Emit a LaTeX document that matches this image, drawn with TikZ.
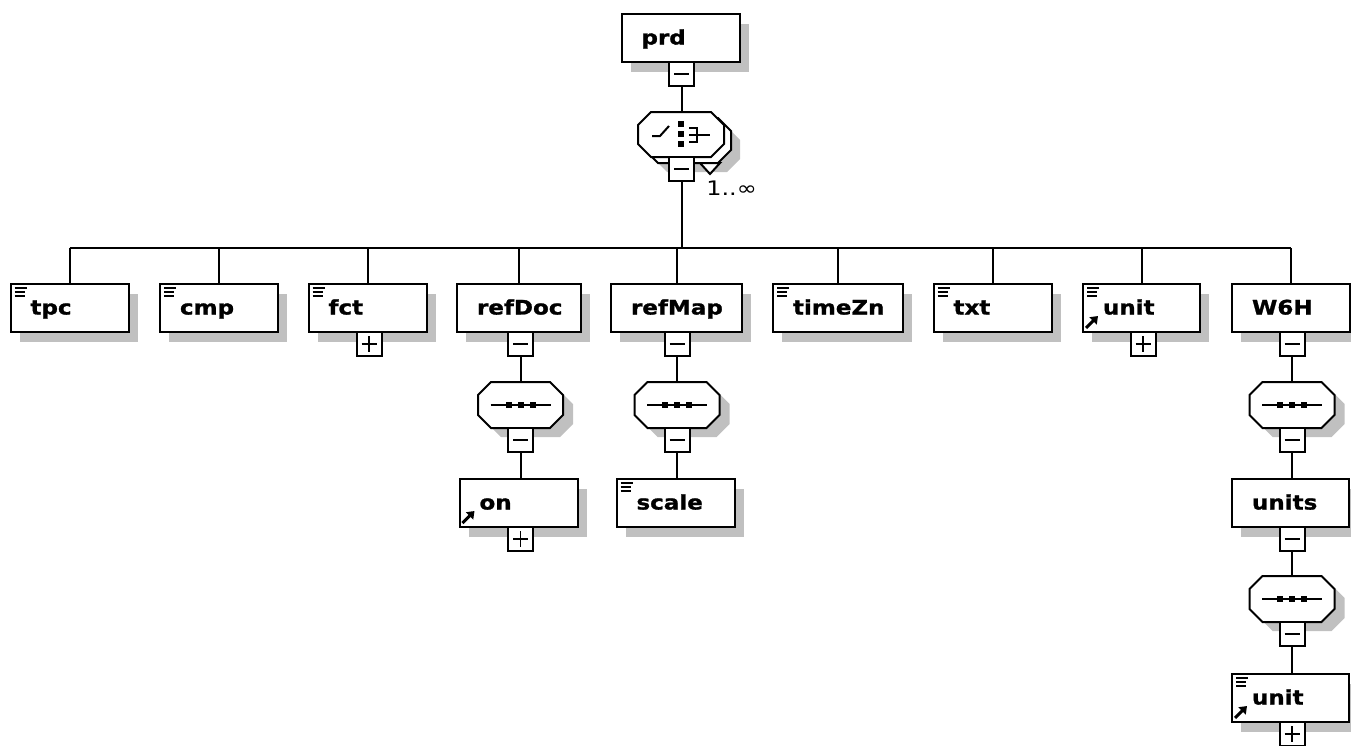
\documentclass[tikz,border=0pt]{standalone}
\usepackage{fontspec}
\newfontfamily\boxfont[FakeStretch=1.15,BoldFeatures={FakeBold=1.2}]{DejaVu Sans}
\newfontfamily\numfont[FakeStretch=1.2]{DejaVu Sans}
\usetikzlibrary{shadows,arrows.meta}
\definecolor{shadowgrey}{HTML}{C0C0C0}

\begin{document}
\begin{tikzpicture}[x=1pt,y=-1pt,line width=2pt,
    elem/.style={draw,fill=white,text width=#1,align=left,inner xsep=20pt,inner ysep=0pt,
      minimum height=48pt,text height=15pt,text depth=2pt,
      font=\boxfont\bfseries\fontsize{20}{22}\selectfont,
      drop shadow={shadow xshift=9pt,shadow yshift=-10pt,fill=shadowgrey,opacity=1}},
    elem/.default=78pt,
    toggle/.style={draw,fill=white,minimum width=25pt,minimum height=24pt,inner sep=0pt},
    minus/.style={toggle,path picture={\draw[line width=1.6pt]
      ([xshift=5pt]path picture bounding box.west) -- ([xshift=-5pt]path picture bounding box.east);}},
    plus/.style={toggle,path picture={\draw[line width=1.6pt]
      ([xshift=5pt]path picture bounding box.west) -- ([xshift=-5pt]path picture bounding box.east)
      ([yshift=-4pt]path picture bounding box.north) -- ([yshift=4pt]path picture bounding box.south);}},
    octshade/.style={fill=shadowgrey},
    octface/.style={draw,fill=white},
    seq/.pic={
      \foreach \sx/\sy/\st in {10/9/octshade,0/0/octface}
        \path[\st,shift={(\sx,\sy)}] (-29.5,-23) -- (29.5,-23) -- (42.5,-10) -- (42.5,10)
          -- (29.5,23) -- (-29.5,23) -- (-42.5,10) -- (-42.5,-10) -- cycle;
      \draw (-30,0) -- (30,0);
      \foreach \dx in {-12,0,12}
        \fill (\dx-3,-3) rectangle (\dx+3,3);
      \node[minimum width=85pt,minimum height=46pt,inner sep=0pt] (-box) {};
    }]
  \useasboundingbox (0,0) rectangle (1351,745);
  \coordinate (bus) at (0,248);

  % root and its choice
  \node[elem] (prd) at (680.5,38) {prd};
  \node[minus] (prdT) at (681.5,74) {};
  \foreach \sx/\sy/\st in {16/15/octshade,7/6/octface,0/0/octface}
    \path[\st,shift={(\sx,\sy)}] (651,112) -- (711,112) -- (724,125) -- (724,144)
      -- (711,157) -- (651,157) -- (638,144) -- (638,125) -- cycle;
  \draw[fill=white] (700,163) -- (720,163) -- (710,174) -- cycle;
  \draw (652,136) -- (660,136) -- (669,126);
  \foreach \sy in {121,131,141}
    \fill (678,\sy) rectangle (684,\sy+6);
  \draw (689,128) -- (697,128) -- (697,142) -- (689,142) (689,135) -- (710,135);
  \node[minimum width=86pt,minimum height=45pt,inner sep=0pt] (choice) at (681,134.5) {};
  \node[minus] (choiceT) at (681.5,169) {};
  \node[anchor=west,font=\numfont\fontsize{20}{22}\selectfont] (card) at (702,188) {1..∞};
  \draw (prdT.south) -- (prdT.south |- choice.north);
  \draw (choiceT.south) -- (choiceT.south |- bus);

  % children
  \node[elem] (tpc) at (69.5,308) {tpc};
  \node[elem] (cmp) at (219,308) {cmp};
  \node[elem] (fct) at (367.5,308) {fct};
  \node[elem=84pt] (refDoc) at (519,308) {refDoc};
  \node[elem=91pt] (refMap) at (676.5,308) {refMap};
  \node[elem=90pt] (timeZn) at (838,308) {timeZn};
  \node[elem] (txt) at (992.5,308) {txt};
  \node[elem=77pt] (unit) at (1141.5,308) {unit};
  \node[elem] (wsixh) at (1291,308) {W6H};
  \draw (tpc.north |- bus) -- (wsixh.north |- bus);
  \foreach \n in {tpc,cmp,fct,refDoc,refMap,timeZn,txt,unit,wsixh}
    \draw (\n.north |- bus) -- (\n.north);

  \node[plus] (fctT) at (369,344) {};
  \node[minus] (refDocT) at (520.5,344) {};
  \node[minus] (refMapT) at (677,344) {};
  \node[plus] (unitT) at (1143,344) {};
  \node[minus] (wsixhT) at (1292,344) {};

  % sequences
  \pic (seqA) at (520.5,405) {seq};
  \pic (seqB) at (677,405) {seq};
  \pic (seqC) at (1292,405) {seq};
  \pic (seqD) at (1292,599) {seq};
  \node[minus] (seqAT) at (520.5,440) {};
  \node[minus] (seqBT) at (677,440) {};
  \node[minus] (seqCT) at (1292,440) {};
  \node[minus] (seqDT) at (1292,634) {};

  % grandchildren
  \node[elem] (on) at (518.5,503) {on};
  \node[elem] (scale) at (675.5,503) {scale};
  \node[elem=77pt] (units) at (1290.5,503) {units};
  \node[elem=77pt] (unitB) at (1290.5,698) {unit};
  \node[plus] (onT) at (520.5,539) {};
  \node[minus] (unitsT) at (1292,539) {};
  \node[plus] (unitBT) at (1292,734) {};

  \foreach \a/\b in {refDocT/seqA-box,seqAT/on,refMapT/seqB-box,seqBT/scale,
      wsixhT/seqC-box,seqCT/units,unitsT/seqD-box,seqDT/unitB}
    \draw (\a.south) -- (\a.south |- \b.north);

  % icons
  \foreach \n in {tpc,cmp,fct,timeZn,txt,unit,scale,unitB}
    \draw[line width=1.8pt] ([xshift=5pt,yshift=-5pt]\n.north west) -- ++(12,0)
      ([xshift=5pt,yshift=-9pt]\n.north west) -- ++(10,0)
      ([xshift=5pt,yshift=-13pt]\n.north west) -- ++(10,0);
  \foreach \n in {on,unit,unitB}
    \draw[line width=3pt,-{Triangle[length=7pt,width=10pt]}]
      ([xshift=4pt,yshift=5pt]\n.south west) -- ++(12,-12);
\end{tikzpicture}
\end{document}
